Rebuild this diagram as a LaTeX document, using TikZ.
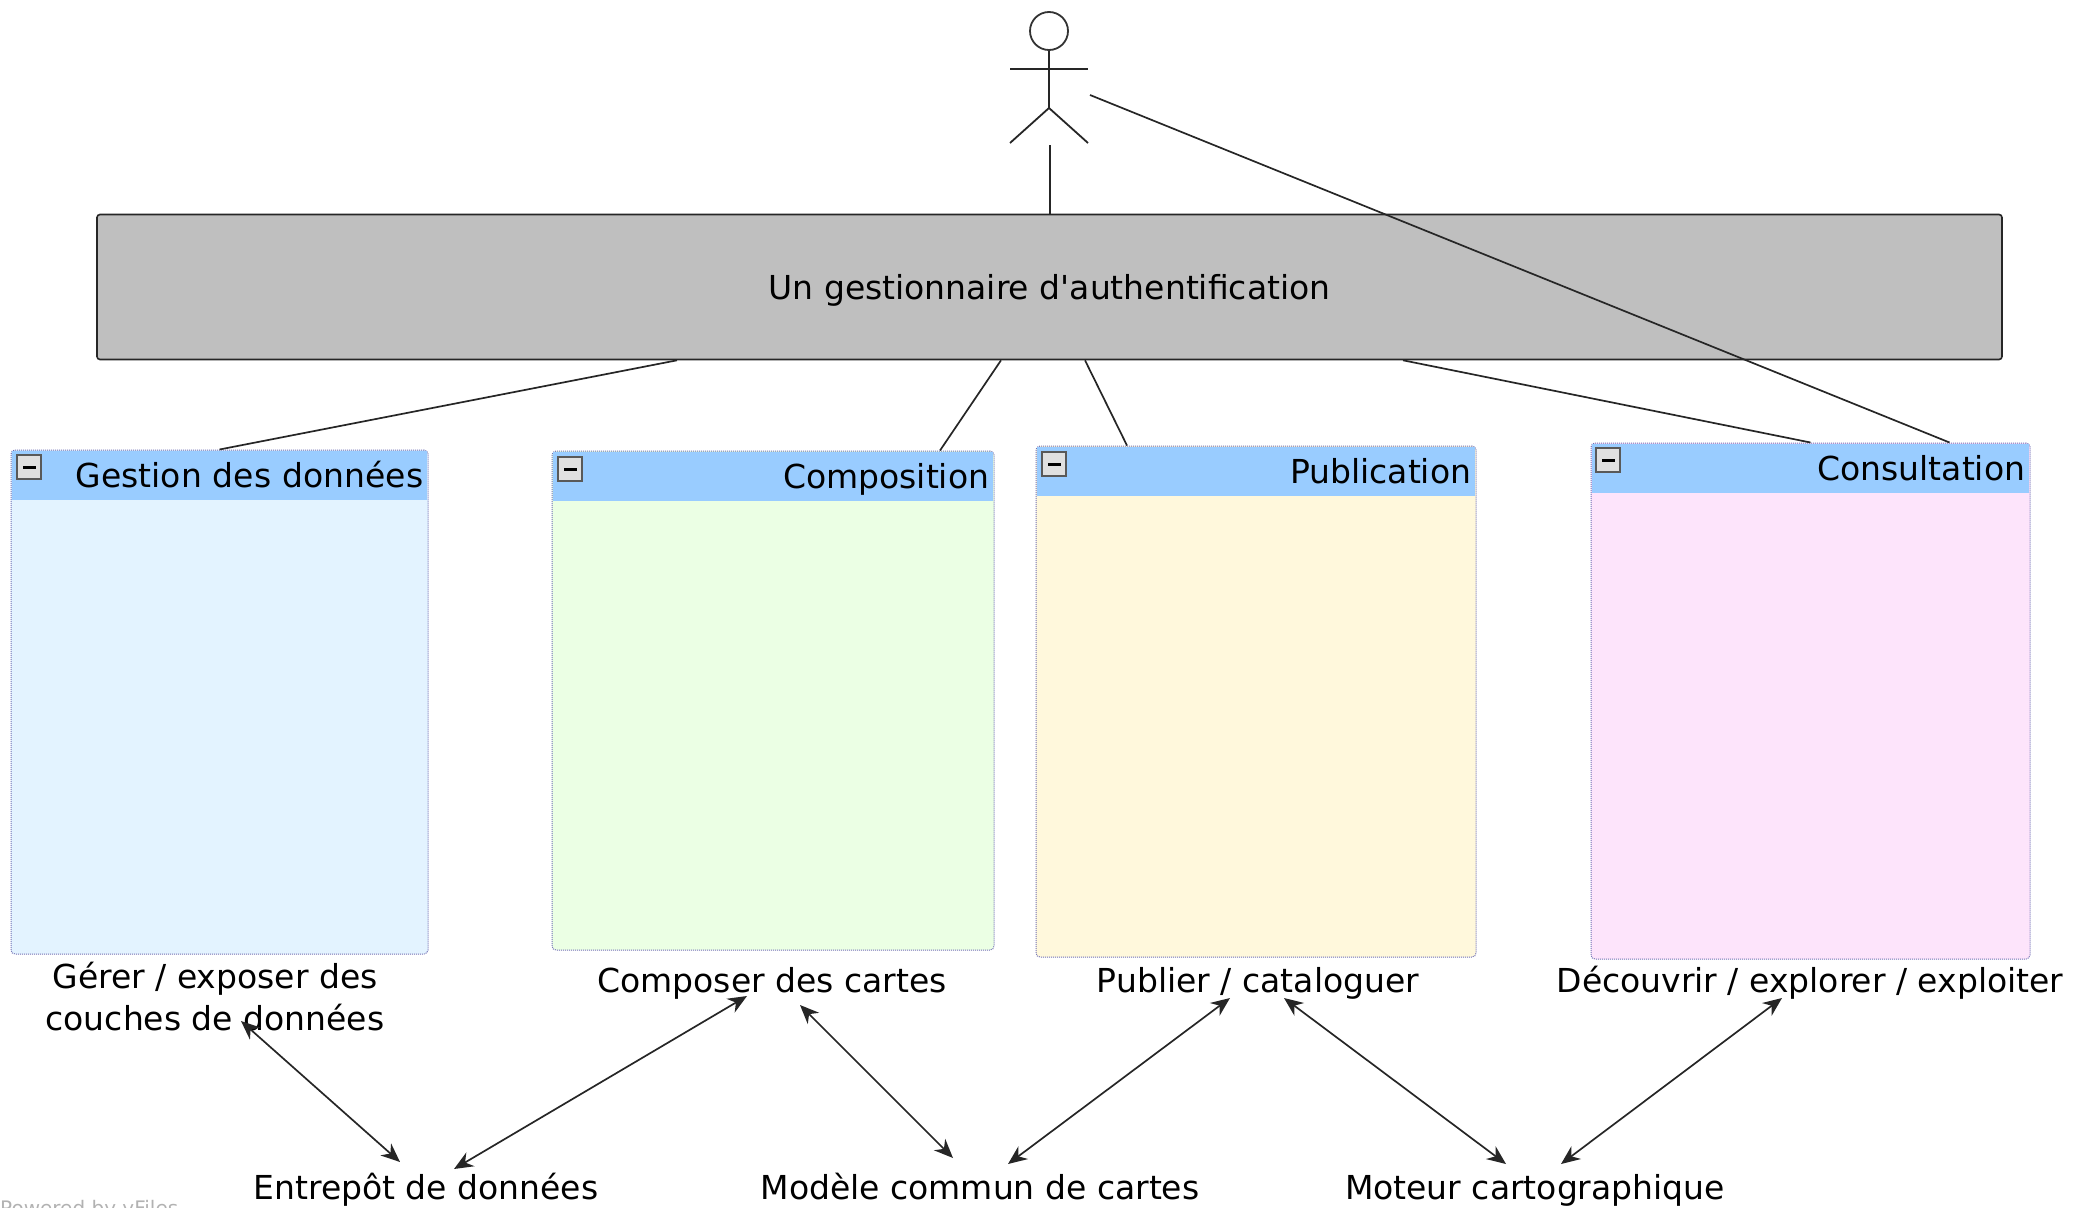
\documentclass[tikz,border=0pt]{standalone}
\usepackage{fontspec}
\setmainfont{DejaVu Sans}
\usetikzlibrary{arrows.meta}
\definecolor{headerblue}{HTML}{99CCFF}
\definecolor{gestionfill}{HTML}{E3F3FF}
\definecolor{compositionfill}{HTML}{EBFFE4}
\definecolor{publicationfill}{HTML}{FFF8DC}
\definecolor{consultationfill}{HTML}{FDE4FB}
\definecolor{groupline}{HTML}{7070B4}
\definecolor{authgrey}{HTML}{BFBFBF}
\tikzset{
  label text/.style={font=\fontsize{33}{42}\selectfont,inner sep=0pt,align=center},
  one line/.style={label text,text height=25pt,text depth=1pt},
  group body/.style={draw=groupline,line width=1pt,densely dotted,rounded corners=4pt,inner sep=0pt},
  group header/.style={fill=headerblue,anchor=north west,minimum height=49pt,inner xsep=4pt,inner ysep=0pt,align=right,text height=25pt,text depth=1pt,font=\fontsize{33}{38}\selectfont},
  minus box/.style={draw=black!65,fill=black!12,line width=1.4pt,minimum size=24pt,inner sep=0pt,
    path picture={\fill[black] (path picture bounding box.center) ++(-6.5,-1.5) rectangle ++(13,3);}},
  link/.style={line width=1.7pt,black!85},
  twoway/.style={link,{Stealth[length=19pt,width=16pt]}-{Stealth[length=19pt,width=16pt]}}
}
\begin{document}
\begin{tikzpicture}[x=1pt,y=-1pt]
\path[use as bounding box,clip] (0,0) rectangle (2079,1207);
% actor
\node[circle,draw=black!80,line width=1.8pt,minimum size=38pt,inner sep=0pt] (head) at (1049,31) {};
\coordinate (hip) at (1049,108);
\coordinate (actorfoot) at (1050,145);
\coordinate (actorside) at (1090,95);
\draw[link,line width=1.8pt] (head) -- (hip);
\draw[link,line width=1.8pt] (1010,69) -- (1088,69);
\draw[link,line width=1.8pt] (1010,143) -- (hip) -- (1088,143);
% authentication
\node[draw=black!85,fill=authgrey,line width=1.6pt,rounded corners=3pt,minimum width=1905pt,minimum height=145pt,inner sep=0pt,text height=25pt,text depth=1pt,font=\fontsize{33}{38}\selectfont] (auth) at (1049.5,287) {Un gestionnaire d\textquotesingle authentification};
% groups
\node[group body,fill=gestionfill,minimum width=417pt,minimum height=504pt] (gestion) at (219.5,702) {};
\node[group body,fill=compositionfill,minimum width=442pt,minimum height=499pt] (composition) at (773,700.5) {};
\node[group body,fill=publicationfill,minimum width=440pt,minimum height=511pt] (publication) at (1256,701.5) {};
\node[group body,fill=consultationfill,minimum width=439pt,minimum height=516pt] (consultation) at (1810.5,701) {};
\node[group header,text width=407pt] (gestionhead) at (12,451) {Gestion des données};
\node[group header,text width=432pt] (compositionhead) at (553,452) {Composition};
\node[group header,text width=430pt] (publicationhead) at (1037,447) {Publication};
\node[group header,text width=429pt] (consultationhead) at (1592,444) {Consultation};
\node[minus box] (gestionminus) at (29,467) {};
\node[minus box] (compositionminus) at (570,469) {};
\node[minus box] (publicationminus) at (1054,464) {};
\node[minus box] (consultationminus) at (1608,460) {};
% labels
\node[label text] (gerer) at (215,997) {Gérer / exposer des\\couches de données};
\node[one line] (composer) at (772,980) {Composer des cartes};
\node[one line] (publier) at (1258,980) {Publier / cataloguer};
\node[one line] (decouvrir) at (1810,980) {Découvrir / explorer / exploiter};
\node[one line] (entrepot) at (426,1187) {Entrepôt de données};
\node[one line] (modele) at (980,1187) {Modèle commun de cartes};
\node[one line] (moteur) at (1535,1187) {Moteur cartographique};
\node[anchor=west,inner sep=0pt,text=black!30,font=\fontsize{20}{24}\selectfont] (powered) at (0,1210) {Powered by yFiles};
% links
\draw[link] (actorfoot) -- ([xshift=0.5pt]auth.north);
\draw[link] (actorside) -- ([xshift=139pt]consultation.north);
\draw[link] ([xshift=-372.5pt]auth.south) -- (gestion.north);
\draw[link] ([xshift=-48.5pt]auth.south) -- ([xshift=167pt]composition.north);
\draw[link] ([xshift=35.5pt]auth.south) -- ([xshift=-129pt]publication.north);
\draw[link] ([xshift=353.5pt]auth.south) -- (consultation.north);
% double arrows
\draw[twoway] ([shift={(26pt,-24pt)}]gerer.center) -- ([shift={(-26pt,25pt)}]entrepot.center);
\draw[twoway] ([shift={(28pt,18pt)}]entrepot.center) -- ([shift={(-25pt,-16pt)}]composer.center);
\draw[twoway] ([shift={(28pt,-25pt)}]composer.center) -- ([shift={(-27pt,29pt)}]modele.center);
\draw[twoway] ([shift={(28pt,23pt)}]modele.center) -- ([shift={(-28pt,-18pt)}]publier.center);
\draw[twoway] ([shift={(26pt,-18pt)}]publier.center) -- ([shift={(-29pt,23pt)}]moteur.center);
\draw[twoway] ([shift={(26pt,23pt)}]moteur.center) -- ([shift={(-28pt,-18pt)}]decouvrir.center);
\end{tikzpicture}
\end{document}
